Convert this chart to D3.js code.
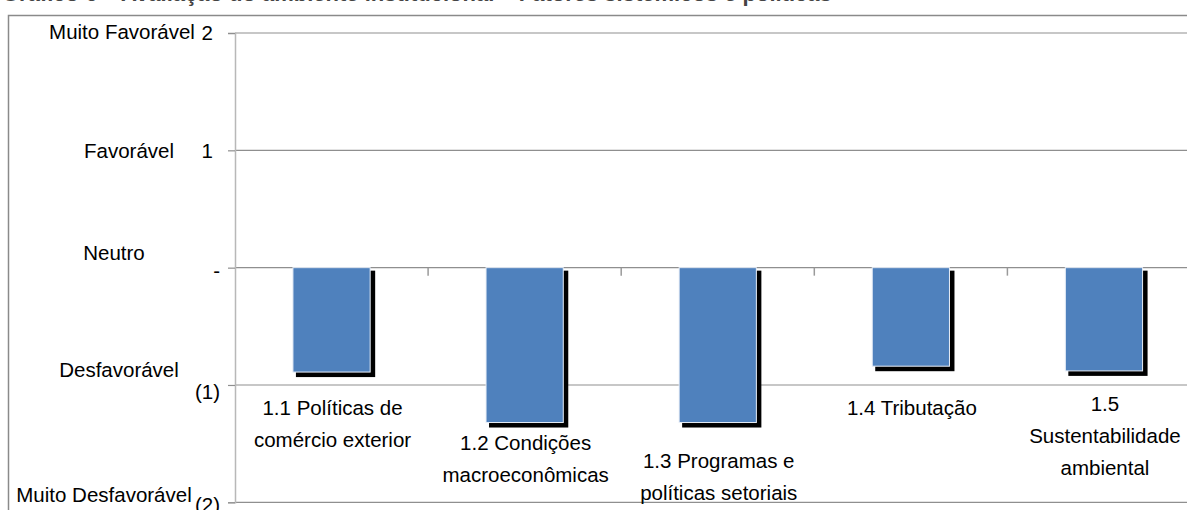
<!DOCTYPE html>
<html lang="pt">
<head>
<meta charset="utf-8">
<script src="https://cdn.jsdelivr.net/npm/d3@7"></script>
<style>
  html, body { margin: 0; padding: 0; background: #fff; }
  svg { display: block; font-family: "Liberation Sans", Arial, sans-serif; }
</style>
</head>
<body>
<svg id="chart" width="1187" height="510"></svg>
<script>
// Avaliação dos fatores do ambiente institucional (escala -2 a 2)
const categories = [
  "1.1 Políticas de comércio exterior",
  "1.2 Condições macroeconômicas",
  "1.3 Programas e políticas setoriais",
  "1.4 Tributação",
  "1.5 Sustentabilidade ambiental"
];
const categoryLines = [
  ["1.1 Políticas de", "comércio exterior"],
  ["1.2 Condições", "macroeconômicas"],
  ["1.3 Programas e", "políticas setoriais"],
  ["1.4 Tributação"],
  ["1.5", "Sustentabilidade", "ambiental"]
];
const scores = [-0.89, -1.32, -1.32, -0.84, -0.88];
const tickValues = [2, 1, 0, -1, -2];
const tickLabels = ["2", "1", "-", "(1)", "(2)"];
const levelNames = ["Muito Favorável", "Favorável", "Neutro", "Desfavorável", "Muito Desfavorável"];
const titleText = "Gráfico 6 – Avaliação do ambiente institucional – Fatores sistêmicos e políticas";

const svg = d3.select("#chart");
const FONT = 20.5;
const gridColor = "#8f8f8f";

// plot geometry
const plotLeft = 235, plotRight = 1200.5, plotTop = 33, plotBottom = 502.3;

const y = d3.scaleLinear().domain([-2, 2]).range([plotBottom, plotTop]);
const x = d3.scaleBand().domain(categories).range([plotLeft, plotRight])
  .paddingInner(0.6).paddingOuter(0.3);
const step = x.step();

// title (mostly above the visible area)
svg.append("text")
  .attr("x", 2).attr("y", 0.5)
  .attr("font-size", 22).attr("font-weight", "bold").attr("fill", "#444")
  .text(titleText);

// chart area border
svg.append("rect")
  .attr("x", 8.5).attr("y", 15.5)
  .attr("width", 1400).attr("height", 600)
  .attr("fill", "none").attr("stroke", "#8a8a8a").attr("stroke-width", 1.5);

// horizontal gridlines
svg.append("g").selectAll("line").data(tickValues).join("line")
  .attr("x1", plotLeft).attr("x2", 1187)
  .attr("y1", d => y(d)).attr("y2", d => y(d))
  .attr("stroke", gridColor).attr("stroke-width", 1.2);

// value axis with accounting-style labels
const yAxis = d3.axisLeft(y)
  .tickValues(tickValues)
  .tickSize(7)
  .tickPadding(8)
  .tickFormat(d => tickLabels[tickValues.indexOf(d)]);

const gy = svg.append("g").attr("transform", `translate(${plotLeft},0)`).call(yAxis);
gy.select(".domain").attr("stroke", "#b8b8b8").attr("stroke-width", 1.5);
gy.selectAll(".tick line").attr("stroke", gridColor).attr("stroke-width", 1.2);
gy.selectAll(".tick text")
  .attr("font-size", FONT)
  .attr("font-family", "Liberation Sans, Arial, sans-serif")
  .attr("fill", "#000")
  .attr("dx", d => d > 0 ? -7 : 0)
  .attr("dy", d => d === -2 ? "0.45em" : d < 0 ? "0.65em" : (d === 0 ? "0.5em" : "0.33em"));

// category tick marks on the zero line
svg.append("g").selectAll("line").data(d3.range(1, categories.length)).join("line")
  .attr("x1", i => plotLeft + i * step).attr("x2", i => plotLeft + i * step)
  .attr("y1", y(0)).attr("y2", y(0) + 8)
  .attr("stroke", "#9a9a9a").attr("stroke-width", 1.5);

// bars with drop shadow
const bars = svg.append("g").selectAll("g").data(categories).join("g");
bars.append("rect")
  .attr("x", d => x(d) + 3)
  .attr("y", (d, i) => y(Math.max(0, scores[i])) + 3)
  .attr("width", x.bandwidth() + 2)
  .attr("height", (d, i) => Math.abs(y(scores[i]) - y(0)) + 2)
  .attr("fill", "#000");
bars.append("rect")
  .attr("x", d => x(d))
  .attr("y", (d, i) => y(Math.max(0, scores[i])))
  .attr("width", x.bandwidth())
  .attr("height", (d, i) => Math.abs(y(scores[i]) - y(0)))
  .attr("fill", "#4f81bd")
  .attr("stroke", "#e8eef7").attr("stroke-width", 1);

// category labels below each bar
const firstLineY = [408, 443, 461, 408, 404];
const lineGap = 32;
svg.append("g").selectAll("text").data(categories).join("text")
  .attr("font-size", FONT).attr("fill", "#000")
  .attr("text-anchor", "middle")
  .each(function (d, i) {
    const cx = x(d) + x.bandwidth() / 2 + 1;
    d3.select(this).selectAll("tspan").data(categoryLines[i]).join("tspan")
      .attr("x", cx)
      .attr("y", (t, j) => firstLineY[i] + j * lineGap)
      .attr("dy", "0.35em")
      .text(t => t);
  });

// qualitative scale names beside the value axis
const levelPos = [
  { cx: 122, cy: y(2) - 1 },
  { cx: 129, cy: y(1) },
  { cx: 114, cy: y(0) - 15 },
  { cx: 119, cy: y(-1) - 15 },
  { cx: 104, cy: y(-2) - 7 }
];
svg.append("g").selectAll("text").data(levelNames).join("text")
  .attr("font-size", FONT).attr("fill", "#000")
  .attr("text-anchor", "middle")
  .attr("x", (d, i) => levelPos[i].cx)
  .attr("y", (d, i) => levelPos[i].cy)
  .attr("dy", "0.35em")
  .text(d => d);
</script>
</body>
</html>
